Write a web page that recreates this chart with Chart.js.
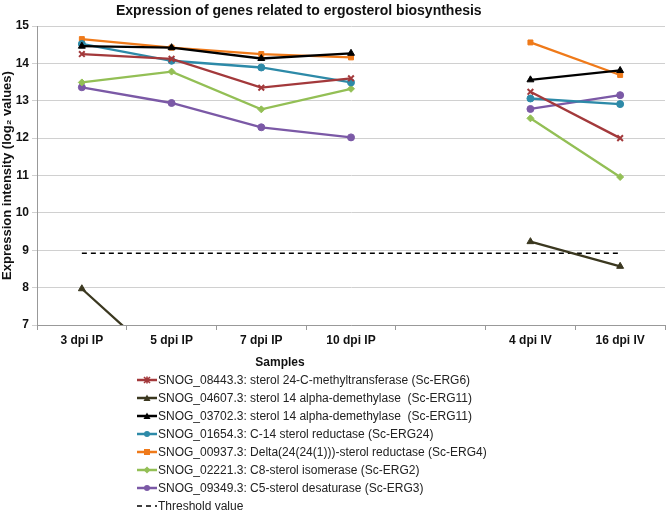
<!DOCTYPE html>
<html>
<head>
<meta charset="utf-8">
<script src="https://cdn.jsdelivr.net/npm/chart.js@4.4.0/dist/chart.umd.min.js"></script>
<style>
    body { margin: 0; background: #fff; font-family: 'Liberation Sans', Arial, sans-serif; }
    #wrap { position: relative; width: 671px; height: 512px; overflow: hidden; }
    #title { position: absolute; left: 116px; top: 2px; font-size: 14px; font-weight: bold; color: #111; white-space: nowrap; }
    #xTitle { position: absolute; left: 250px; top: 355px; width: 60px; text-align: center; font-size: 12px; font-weight: bold; color: #111; }
    #chartBox { position: absolute; left: 0; top: 0; width: 671px; height: 372px; }
    #legend { position: absolute; left: 137px; top: 371px; font-size: 12px; color: #222; }
    .leg-row { height: 18px; line-height: 18px; display: flex; align-items: center; white-space: nowrap; }
    .leg-row svg { margin-right: 1px; }
</style>
</head>
<body>
<div id="wrap">
    <div id="chartBox"><canvas id="ergChart"></canvas></div>
    <div id="title">Expression of genes related to ergosterol biosynthesis</div>
    <div id="xTitle">Samples</div>
    <div id="legend"></div>
</div>

<script>
// ====== DATA ======
const samples = ['3 dpi IP', '5 dpi IP', '7 dpi IP', '10 dpi IP', '', '4 dpi IV', '16 dpi IV'];

const erg6_08443  = [14.25, 14.12, 13.35, 13.60, null, 13.24, 12.00];
const erg11_04607 = [7.97, 5.80, null, null, null, 9.23, 8.57];
const erg11_03702 = [14.46, 14.42, 14.13, 14.27, null, 13.56, 13.81];
const erg24_01654 = [14.52, 14.07, 13.89, 13.49, null, 13.06, 12.91];
const erg4_00937  = [14.65, 14.42, 14.25, 14.16, null, 14.56, 13.69];
const erg2_02221  = [13.49, 13.78, 12.77, 13.32, null, 12.53, 10.96];
const erg3_09349  = [13.36, 12.94, 12.29, 12.02, null, 12.78, 13.15];
const threshold   = [8.92, 8.92, 8.92, 8.92, 8.92, 8.92, 8.92];

const yTicks = [7, 8, 9, 10, 11, 12, 13, 14, 15];

// ====== SERIES ======
const series = [
    { label: 'SNOG_08443.3: sterol 24-C-methyltransferase (Sc-ERG6)', data: erg6_08443, color: '#a3393b', point: 'crossRot', r: 4 },
    { label: 'SNOG_04607.3: sterol 14 alpha-demethylase  (Sc-ERG11)', data: erg11_04607, color: '#3b3820', point: 'triangle', r: 4 },
    { label: 'SNOG_03702.3: sterol 14 alpha-demethylase  (Sc-ERG11)', data: erg11_03702, color: '#000000', point: 'triangle', r: 4 },
    { label: 'SNOG_01654.3: C-14 sterol reductase (Sc-ERG24)', data: erg24_01654, color: '#2d8aa8', point: 'circle', r: 3.5 },
    { label: 'SNOG_00937.3: Delta(24(24(1)))-sterol reductase (Sc-ERG4)', data: erg4_00937, color: '#ef7a1a', point: 'rect', r: 3.5 },
    { label: 'SNOG_02221.3: C8-sterol isomerase (Sc-ERG2)', data: erg2_02221, color: '#93bf55', point: 'rectRot', r: 3.5 },
    { label: 'SNOG_09349.3: C5-sterol desaturase (Sc-ERG3)', data: erg3_09349, color: '#7b59a6', point: 'circle', r: 3.5 }
];

const datasets = series.map(s => ({
    label: s.label,
    data: s.data,
    borderColor: s.color,
    backgroundColor: s.color,
    borderWidth: 2.3,
    pointStyle: s.point,
    pointRadius: s.r,
    pointBorderWidth: s.point === 'crossRot' ? 2 : 1,
    pointBackgroundColor: s.color,
    pointBorderColor: s.color,
    spanGaps: false,
    tension: 0
}));

datasets.push({
    label: 'Threshold value',
    data: threshold,
    borderColor: '#000',
    borderWidth: 1.5,
    borderDash: [5, 4],
    pointRadius: 0,
    fill: false
});

// ====== CHART ======
Chart.defaults.font.family = "'Liberation Sans', Arial, sans-serif";
Chart.defaults.color = '#111';

const ctx = document.getElementById('ergChart').getContext('2d');
new Chart(ctx, {
    type: 'line',
    data: { labels: samples, datasets: datasets },
    options: {
        responsive: true,
        maintainAspectRatio: false,
        animation: false,
        layout: { padding: { top: 26, right: 2, left: 0, bottom: 0 } },
        plugins: { legend: { display: false }, tooltip: { enabled: false } },
        scales: {
            x: {
                offset: true,
                afterFit: axis => { axis.height = 47; },
                grid: { offset: true, drawOnChartArea: false, tickLength: 5, color: '#999' },
                border: { color: '#999' },
                ticks: { font: { size: 12, weight: 'bold' }, color: '#111', padding: 3, maxRotation: 0 }
            },
            y: {
                min: 7,
                max: 15,
                afterBuildTicks: axis => { axis.ticks = yTicks.map(v => ({ value: v })); },
                afterFit: axis => { axis.width = 37; },
                grid: { color: '#d0d0d0', tickLength: 5 },
                border: { color: '#999' },
                ticks: { font: { size: 12, weight: 'bold' }, color: '#111', padding: 3 },
                title: { display: true, text: 'Expression intensity (log\u2082 values)', font: { size: 13, weight: 'bold' }, color: '#111', padding: 0 }
            }
        }
    }
});

// ====== LEGEND ======
function markerSvg(s) {
    const c = s.color;
    let m = '';
    if (s.point === 'crossRot') m = `<path d="M7 2 L13 8 M13 2 L7 8 M10 1.5 L10 8.5" stroke="${c}" stroke-width="1.6"/>`;
    else if (s.point === 'triangle') m = `<path d="M10 1.5 L13.5 8 L6.5 8 Z" fill="${c}"/>`;
    else if (s.point === 'circle') m = `<circle cx="10" cy="5" r="3" fill="${c}"/>`;
    else if (s.point === 'rect') m = `<rect x="7" y="2" width="6" height="6" fill="${c}"/>`;
    else if (s.point === 'rectRot') m = `<path d="M10 1.5 L13.5 5 L10 8.5 L6.5 5 Z" fill="${c}"/>`;
    return `<svg width="20" height="10"><line x1="0" y1="5" x2="20" y2="5" stroke="${c}" stroke-width="2.5"/>${m}</svg>`;
}

const legendBox = document.getElementById('legend');
series.forEach(s => {
    const row = document.createElement('div');
    row.className = 'leg-row';
    row.innerHTML = `${markerSvg(s)}<span>${s.label.replace(/  /g, ' &nbsp;')}</span>`;
    legendBox.appendChild(row);
});
const thRow = document.createElement('div');
thRow.className = 'leg-row';
thRow.innerHTML = `<svg width="20" height="10"><line x1="0" y1="5" x2="20" y2="5" stroke="#000" stroke-width="1.5" stroke-dasharray="5,4"/></svg><span>Threshold value</span>`;
legendBox.appendChild(thRow);
</script>
</body>
</html>
